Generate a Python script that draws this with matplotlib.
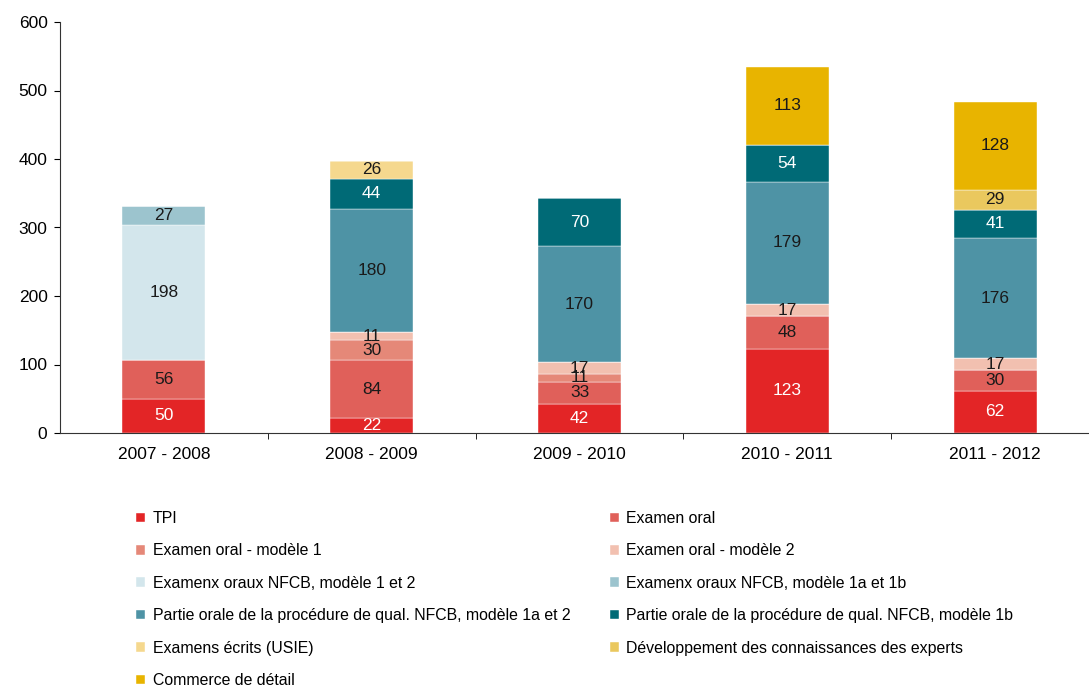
import matplotlib
matplotlib.use("Agg")
import matplotlib.pyplot as plt
import numpy as np

plt.rcParams['font.family'] = ['Liberation Sans', 'DejaVu Sans']

categories = ["2007 - 2008", "2008 - 2009", "2009 - 2010", "2010 - 2011", "2011 - 2012"]

tpi = [50, 22, 42, 123, 62]
examen_oral = [56, 84, 33, 48, 30]
oral_m1 = [0, 30, 11, 0, 0]
oral_m2 = [0, 11, 17, 17, 17]
nfcb_1_2 = [198, 0, 0, 0, 0]
nfcb_1a_1b = [27, 0, 0, 0, 0]
partie_1a_2 = [0, 180, 170, 179, 176]
partie_1b = [0, 44, 70, 54, 41]
ecrits_usie = [0, 26, 0, 0, 0]
dev_experts = [0, 0, 0, 0, 29]
commerce = [0, 0, 0, 113, 128]

series_names = [
    "TPI",
    "Examen oral",
    "Examen oral - modèle 1",
    "Examen oral - modèle 2",
    "Examenx oraux NFCB, modèle 1 et 2",
    "Examenx oraux NFCB, modèle 1a et 1b",
    "Partie orale de la procédure de qual. NFCB, modèle 1a et 2",
    "Partie orale de la procédure de qual. NFCB, modèle 1b",
    "Examens écrits (USIE)",
    "Développement des connaissances des experts",
    "Commerce de détail",
]
series = [tpi, examen_oral, oral_m1, oral_m2, nfcb_1_2, nfcb_1a_1b,
          partie_1a_2, partie_1b, ecrits_usie, dev_experts, commerce]
colors = ["#E32526", "#E0605A", "#E58878", "#F2C0B0", "#D3E6EC", "#9CC4CE",
          "#4E93A5", "#006A76", "#F5D88E", "#EAC85E", "#E8B400"]
white_text = {0, 7}

fig = plt.figure(figsize=(10.89, 6.98), dpi=100)
ax = fig.add_axes([60 / 1089, 1 - 433 / 698, 1039 / 1089, (433 - 22) / 698])

x = np.arange(len(categories))
bottom = np.zeros(len(categories))
handles = []
for i, (name, vals) in enumerate(zip(series_names, series)):
    vals = np.array(vals, dtype=float)
    bars = ax.bar(x, vals, 0.4, bottom=bottom, color=colors[i], label=name,
                  edgecolor="white", linewidth=0.3)
    handles.append(bars)
    for j, v in enumerate(vals):
        if v > 0:
            ax.text(x[j], bottom[j] + v / 2, f"{int(v)}", ha="center", va="center",
                    fontsize=12.5, color="white" if i in white_text else "#1a1a1a")
    bottom += vals

ax.set_xlim(-0.5, 4.5)
ax.set_ylim(0, 600)
ax.set_yticks(range(0, 601, 100))
ax.set_xticks(x)
ax.set_xticklabels(categories)
ax.set_xticks(np.arange(0.5, 4.5, 1), minor=True)
ax.tick_params(axis="x", which="major", length=0, pad=10, labelsize=12.5)
ax.tick_params(axis="x", which="minor", length=4, direction="out")
ax.tick_params(axis="y", length=4, labelsize=12.5, pad=5)
for s in ["top", "right"]:
    ax.spines[s].set_visible(False)
ax.spines["left"].set_color("#333333")
ax.spines["bottom"].set_color("#333333")

order = [0, 2, 4, 6, 8, 10, 1, 3, 5, 7, 9]
fig.legend([handles[k] for k in order], [series_names[k] for k in order],
           ncol=2, loc="upper left", bbox_to_anchor=(136 / 1089, 1 - 511 / 698),
           frameon=False, fontsize=11.4, handlelength=0.55, handleheight=0.55,
           handletextpad=0.5, labelspacing=1.1, columnspacing=2.5,
           borderaxespad=0, borderpad=0)

fig.savefig("out.png", dpi=100)
